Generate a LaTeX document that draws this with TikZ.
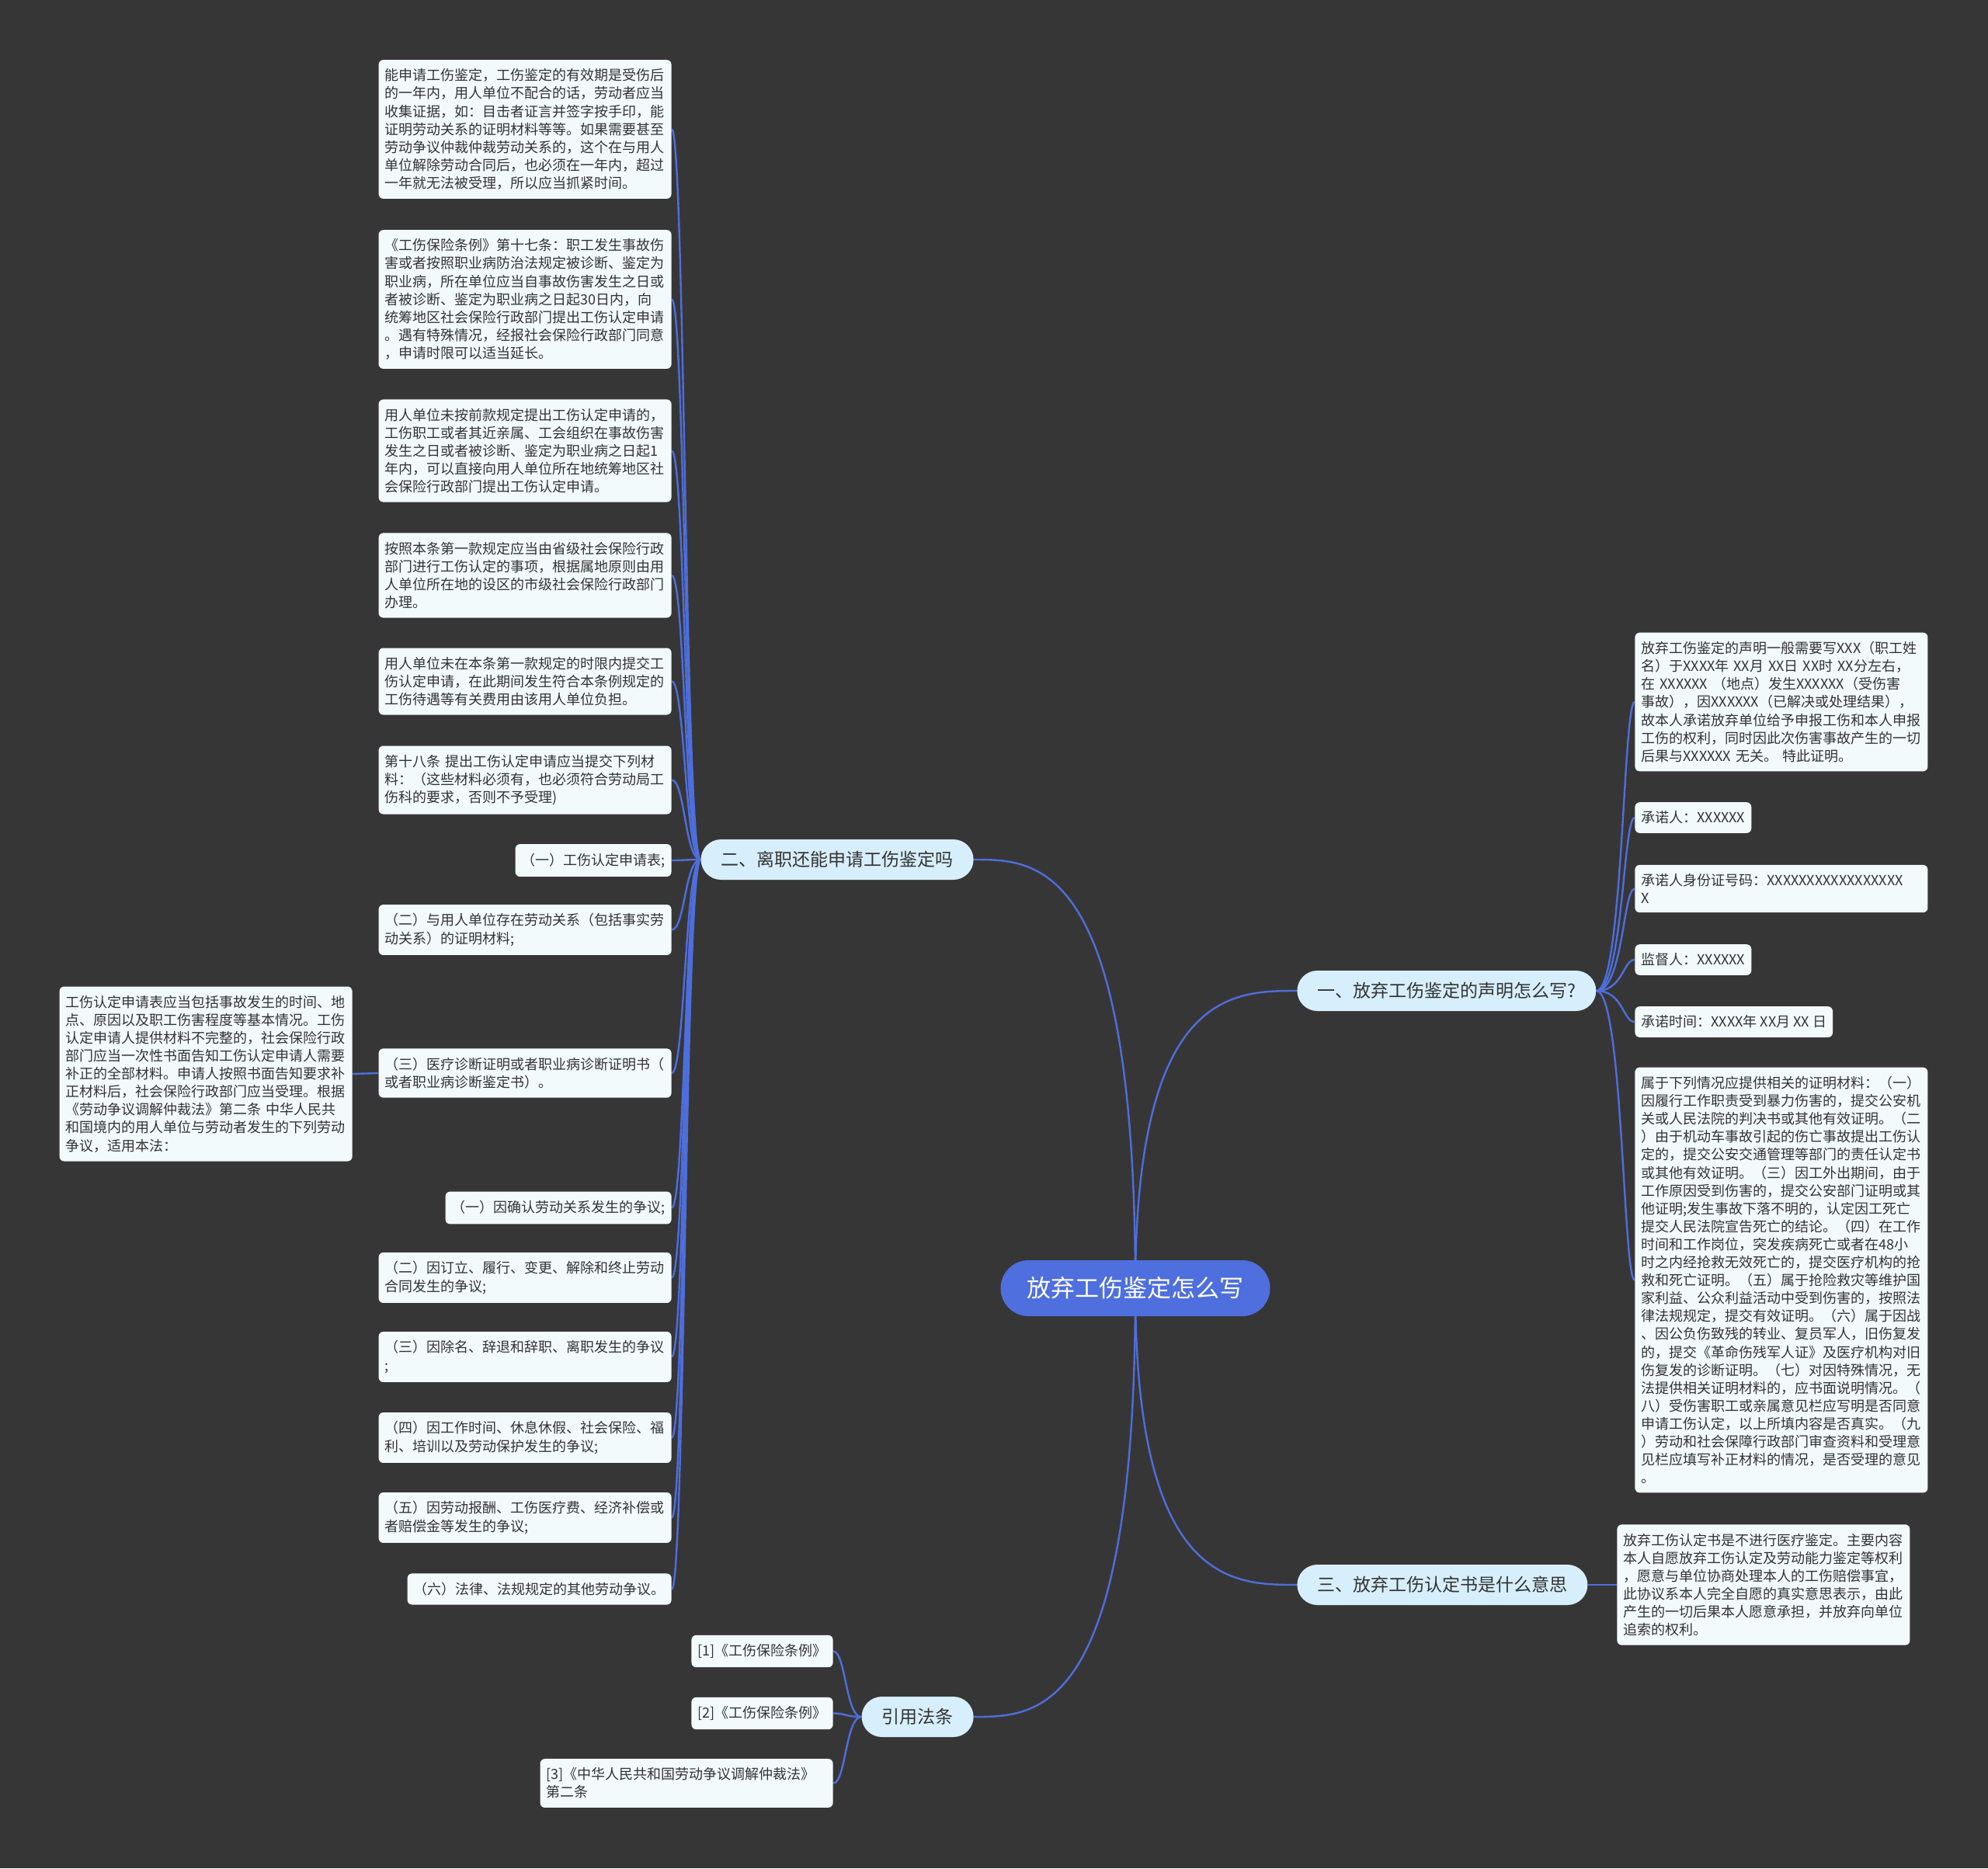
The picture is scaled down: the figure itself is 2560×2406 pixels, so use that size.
\documentclass[tikz,border=0pt]{standalone}
\usepackage{fontspec}
\newfontfamily\cjk{Noto Sans CJK SC}
\usetikzlibrary{calc}
\definecolor{bgc}{HTML}{373637}
\definecolor{linec}{HTML}{4E6EDB}
\definecolor{ctrc}{HTML}{4E6FDD}
\definecolor{lonec}{HTML}{D7EFFC}
\definecolor{leafc}{HTML}{F2FAFC}
\definecolor{txtc}{HTML}{333333}
\pgfdeclarelayer{bgl}\pgfdeclarelayer{connl}\pgfsetlayers{bgl,connl,main}
\tikzset{
 leaf/.style={fill=leafc, rounded corners=3pt, font=\cjk\fontsize{9pt}{11.55pt}\selectfont, text=txtc, align=left, inner xsep=4pt, inner ysep=5.75pt},
 wide/.style={leaf, text width=180.5pt},
 lvone/.style={fill=lonec, rounded corners=13pt, font=\cjk\fontsize{11.5pt}{14pt}\selectfont, text=txtc, inner xsep=13pt, minimum height=26pt},
 rootnode/.style={fill=ctrc, rounded corners=18pt, font=\cjk\fontsize{15.5pt}{18pt}\selectfont, text=white, inner xsep=17pt, minimum height=36pt},
 conn/.style={draw=linec, line width=1.2pt},
}
\begin{document}
\begin{tikzpicture}[x=0.5pt,y=-0.5pt]
\useasboundingbox (0,0) rectangle (2560,2406);
\begin{pgfonlayer}{bgl}
\fill[bgc] (0,0) rectangle (2560,2406);
\end{pgfonlayer}
% root
\node[rootnode] (root) at (1462,1659) {放弃工伤鉴定怎么写};
% level one
\node[lvone, anchor=east] (L2) at (1254,1107) {二、离职还能申请工伤鉴定吗};
\node[lvone, anchor=west] (L1) at (1670,1276) {一、放弃工伤鉴定的声明怎么写?};
\node[lvone, anchor=west] (L3) at (1670,2041) {三、放弃工伤认定书是什么意思};
\node[lvone, anchor=east] (L4) at (1254,2211) {引用法条};
% children of L2
\node[wide, anchor=east] (a1) at (865,166.5) {能申请工伤鉴定，工伤鉴定的有效期是受伤后\\的一年内，用人单位不配合的话，劳动者应当\\收集证据，如：目击者证言并签字按手印，能\\证明劳动关系的证明材料等等。如果需要甚至\\劳动争议仲裁仲裁劳动关系的，这个在与用人\\单位解除劳动合同后，也必须在一年内，超过\\一年就无法被受理，所以应当抓紧时间。};
\node[wide, anchor=east] (a2) at (865,385.5) {《工伤保险条例》第十七条：职工发生事故伤\\害或者按照职业病防治法规定被诊断、鉴定为\\职业病，所在单位应当自事故伤害发生之日或\\者被诊断、鉴定为职业病之日起30日内，向\\统筹地区社会保险行政部门提出工伤认定申请\\。遇有特殊情况，经报社会保险行政部门同意\\，申请时限可以适当延长。};
\node[wide, anchor=east] (a3) at (865,580.5) {用人单位未按前款规定提出工伤认定申请的，\\工伤职工或者其近亲属、工会组织在事故伤害\\发生之日或者被诊断、鉴定为职业病之日起1\\年内，可以直接向用人单位所在地统筹地区社\\会保险行政部门提出工伤认定申请。};
\node[wide, anchor=east] (a4) at (865,741) {按照本条第一款规定应当由省级社会保险行政\\部门进行工伤认定的事项，根据属地原则由用\\人单位所在地的设区的市级社会保险行政部门\\办理。};
\node[wide, anchor=east] (a5) at (865,877.5) {用人单位未在本条第一款规定的时限内提交工\\伤认定申请，在此期间发生符合本条例规定的\\工伤待遇等有关费用由该用人单位负担。};
\node[wide, anchor=east] (a6) at (865,1004.5) {第十八条 提出工伤认定申请应当提交下列材\\料：（这些材料必须有，也必须符合劳动局工\\伤科的要求，否则不予受理)};
\node[leaf, anchor=east] (a7) at (865,1108) {（一）工伤认定申请表;};
\node[wide, anchor=east] (a8) at (865,1197.5) {（二）与用人单位存在劳动关系（包括事实劳\\动关系）的证明材料;};
\node[wide, anchor=east] (a9) at (865,1382) {（三）医疗诊断证明或者职业病诊断证明书（\\或者职业病诊断鉴定书）。};
\node[wide, anchor=east] (a9x) at (454,1383) {工伤认定申请表应当包括事故发生的时间、地\\点、原因以及职工伤害程度等基本情况。工伤\\认定申请人提供材料不完整的，社会保险行政\\部门应当一次性书面告知工伤认定申请人需要\\补正的全部材料。申请人按照书面告知要求补\\正材料后，社会保险行政部门应当受理。根据\\《劳动争议调解仲裁法》第二条 中华人民共\\和国境内的用人单位与劳动者发生的下列劳动\\争议，适用本法：};
\node[leaf, anchor=east] (a10) at (865,1555.5) {（一）因确认劳动关系发生的争议;};
\node[wide, anchor=east] (a11) at (865,1645.5) {（二）因订立、履行、变更、解除和终止劳动\\合同发生的争议;};
\node[wide, anchor=east] (a12) at (865,1747.5) {（三）因除名、辞退和辞职、离职发生的争议\\;};
\node[wide, anchor=east] (a13) at (865,1851.5) {（四）因工作时间、休息休假、社会保险、福\\利、培训以及劳动保护发生的争议;};
\node[wide, anchor=east] (a14) at (865,1954.5) {（五）因劳动报酬、工伤医疗费、经济补偿或\\者赔偿金等发生的争议;};
\node[leaf, anchor=east] (a15) at (865,2046.5) {（六）法律、法规规定的其他劳动争议。};
% children of L1
\node[wide, anchor=west] (b1) at (2105,904) {放弃工伤鉴定的声明一般需要写XXX（职工姓\\名）于XXXX年 XX月 XX日 XX时 XX分左右，\\在 XXXXXX （地点）发生XXXXXX（受伤害\\事故），因XXXXXX（已解决或处理结果），\\故本人承诺放弃单位给予申报工伤和本人申报\\工伤的权利，同时因此次伤害事故产生的一切\\后果与XXXXXX 无关。 特此证明。};
\node[leaf, anchor=west] (b2) at (2105,1053) {承诺人：XXXXXX};
\node[wide, anchor=west] (b3) at (2105,1144.5) {承诺人身份证号码：XXXXXXXXXXXXXXXXX\\X};
\node[leaf, anchor=west] (b4) at (2105,1236) {监督人：XXXXXX};
\node[leaf, anchor=west] (b5) at (2105,1316) {承诺时间：XXXX年 XX月 XX 日};
\node[wide, anchor=west] (b6) at (2105,1648.5) {属于下列情况应提供相关的证明材料：（一）\\因履行工作职责受到暴力伤害的，提交公安机\\关或人民法院的判决书或其他有效证明。（二\\）由于机动车事故引起的伤亡事故提出工伤认\\定的，提交公安交通管理等部门的责任认定书\\或其他有效证明。（三）因工外出期间，由于\\工作原因受到伤害的，提交公安部门证明或其\\他证明;发生事故下落不明的，认定因工死亡\\提交人民法院宣告死亡的结论。（四）在工作\\时间和工作岗位，突发疾病死亡或者在48小\\时之内经抢救无效死亡的，提交医疗机构的抢\\救和死亡证明。（五）属于抢险救灾等维护国\\家利益、公众利益活动中受到伤害的，按照法\\律法规规定，提交有效证明。（六）属于因战\\、因公负伤致残的转业、复员军人，旧伤复发\\的，提交《革命伤残军人证》及医疗机构对旧\\伤复发的诊断证明。（七）对因特殊情况，无\\法提供相关证明材料的，应书面说明情况。（\\八）受伤害职工或亲属意见栏应写明是否同意\\申请工伤认定，以上所填内容是否真实。（九\\）劳动和社会保障行政部门审查资料和受理意\\见栏应填写补正材料的情况，是否受理的意见\\。};
% child of L3
\node[wide, anchor=west] (c1) at (2082,2041) {放弃工伤认定书是不进行医疗鉴定。主要内容\\本人自愿放弃工伤认定及劳动能力鉴定等权利\\，愿意与单位协商处理本人的工伤赔偿事宜，\\此协议系本人完全自愿的真实意思表示，由此\\产生的一切后果本人愿意承担，并放弃向单位\\追索的权利。};
% children of L4
\node[leaf, anchor=east] (d1) at (1073,2126.5) {[1]《工伤保险条例》};
\node[leaf, anchor=east] (d2) at (1073,2206.5) {[2]《工伤保险条例》};
\node[wide, anchor=east] (d3) at (1073,2296.5) {[3]《中华人民共和国劳动争议调解仲裁法》\\第二条};
% spine coordinates
\coordinate (sp2) at (882,0);
\coordinate (sp1) at (2090,0);
\coordinate (sp4) at (1089,0);
\begin{pgfonlayer}{connl}
\foreach \t in {L2,L4} {
  \draw[conn] (root.center) .. controls (root.center |- \t.east) and ($(root.center |- \t.east)!0.6!(\t.east)$) .. (\t.east);
}
\foreach \t in {L1,L3} {
  \draw[conn] (root.center) .. controls (root.center |- \t.west) and ($(root.center |- \t.west)!0.6!(\t.west)$) .. (\t.west);
}
\foreach \n in {a1,a2,a3,a4,a5,a6,a7,a8,a9,a10,a11,a12,a13,a14,a15} {
  \draw[conn] (L2.west) .. controls (sp2 |- L2.west) and (sp2 |- \n.east) .. (\n.east);
}
\draw[conn] (a9.west) -- (a9x.east);
\foreach \n in {b1,b2,b3,b4,b5,b6} {
  \draw[conn] (L1.east) .. controls (sp1 |- L1.east) and (sp1 |- \n.west) .. (\n.west);
}
\draw[conn] (L3.east) -- (c1.west);
\foreach \n in {d1,d2,d3} {
  \draw[conn] (L4.west) .. controls (sp4 |- L4.west) and (sp4 |- \n.east) .. (\n.east);
}
\end{pgfonlayer}
\end{tikzpicture}
\end{document}
